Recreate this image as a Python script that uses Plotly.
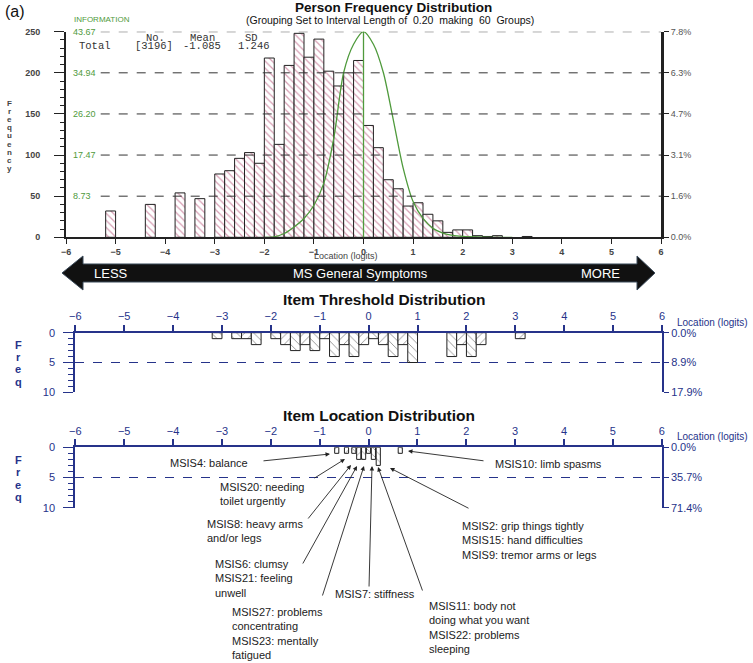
import plotly.graph_objects as go

# ---- data ----
# person frequency distribution (bin centres in logits, counts per 0.20 bin)
person_x = [-5.1, -4.3, -3.7, -3.3, -2.9, -2.7, -2.5, -2.3, -2.1, -1.9, -1.7, -1.5, -1.3, -1.1,
            -0.9, -0.7, -0.5, -0.3, -0.1, 0.1, 0.3, 0.5, 0.7, 0.9, 1.1, 1.3, 1.5, 1.7, 1.9, 2.1,
            2.3, 2.5, 2.7, 3.3]
person_n = [32, 40, 54, 47, 77, 81, 96, 103, 90, 218, 113, 209, 248, 219,
            241, 202, 184, 200, 215, 136, 109, 70, 59, 38, 42, 28, 20, 6, 9, 9,
            2, 1, 2, 1]

# test information curve (green line)
info_x = [-2.0, -1.8, -1.6, -1.4, -1.2, -1.0, -0.8, -0.6, -0.4, -0.2, 0.0, 0.2, 0.4, 0.6,
          0.8, 1.0, 1.2, 1.4, 1.6, 1.8, 2.0, 2.4, 3.0]
info_y = [0.0, 0.1, 0.8, 2.2, 4.0, 6.8, 11.5, 21.0, 35.0, 41.0, 43.67, 41.0, 35.0, 25.0,
          14.7, 7.6, 4.0, 1.9, 0.9, 0.4, 0.2, 0.05, 0.0]

count_ticks = [0, 50, 100, 150, 200, 250]
count_pct = ['0.0%', '1.6%', '3.1%', '4.7%', '6.3%', '7.8%']
info_ticks = [8.73, 17.47, 26.20, 34.94, 43.67]
info_labels = ['8.73', '17.47', '26.20', '34.94', '43.67']
logit_ticks = [-6, -5, -4, -3, -2, -1, 0, 1, 2, 3, 4, 5, 6]

# item threshold distribution
thr_x = [-3.1, -2.7, -2.5, -2.3, -1.9, -1.7, -1.5, -1.3, -1.1, -0.9, -0.7, -0.5, -0.3, -0.1,
         0.1, 0.3, 0.5, 0.7, 0.9, 1.7, 1.9, 2.1, 2.3, 3.1]
thr_n = [1, 1, 1, 2, 1, 2, 3, 2, 3, 1, 4, 2, 4, 2,
         1, 2, 4, 2, 5, 4, 2, 4, 2, 1]
thr_ticks = [0, 5, 10]
thr_pct = ['0.0%', '8.9%', '17.9%']

# item location distribution
item_x = [-0.65, -0.45, -0.3, -0.2, -0.1, 0.0, 0.1, 0.2, 0.65]
item_n = [1, 1, 1, 2, 2, 1, 2, 3, 1]
item_pct = ['0.0%', '35.7%', '71.4%']

item_labels = [
    'MSIS4: balance',
    'MSIS20: needing<br>toilet urgently',
    'MSIS8: heavy arms<br>and/or legs',
    'MSIS6: clumsy<br>MSIS21: feeling<br>unwell',
    'MSIS27: problems<br>concentrating<br>MSIS23: mentally<br>fatigued',
    'MSIS7: stiffness',
    'MSIS11: body not<br>doing what you want<br>MSIS22: problems<br>sleeping',
    'MSIS2: grip things tightly<br>MSIS15: hand difficulties<br>MSIS9: tremor arms or legs',
    'MSIS10: limb spasms',
]

# ---- figure ----
W, H = 753, 663
FONT = 'Arial, Liberation Sans, sans-serif'
NAVY = '#26338a'
GREEN = '#4f9a3c'
HATCH = '#b0406a'


def px(x):
    return x / W


def py(y):
    return 1 - y / H


def hatch(xs, width):
    return ['\\' if round((x + 6) / width - 0.5) % 2 == 0 else '/' for x in xs]


fig = go.Figure()

fig.add_trace(go.Bar(
    x=person_x, y=person_n, width=0.2, xaxis='x', yaxis='y',
    marker=dict(color='white', line=dict(color='#222', width=1),
                pattern=dict(shape='\\', fgcolor=HATCH, bgcolor='white', size=5, solidity=0.25)),
    hoverinfo='x+y'))
fig.add_trace(go.Scatter(
    x=info_x, y=info_y, xaxis='x', yaxis='y3', mode='lines',
    line=dict(color=GREEN, width=1.3, shape='spline', smoothing=0.8)))

fig.add_trace(go.Bar(
    x=thr_x, y=thr_n, width=0.2, xaxis='x2', yaxis='y4',
    marker=dict(color='white', line=dict(color='#222', width=1),
                pattern=dict(shape=hatch(thr_x, 0.2), fgcolor='#222', bgcolor='white', size=6, solidity=0.15))))

fig.add_trace(go.Bar(
    x=item_x, y=item_n, width=0.085, xaxis='x3', yaxis='y6',
    marker=dict(color='white', line=dict(color='#222', width=1),
                pattern=dict(shape=hatch(item_x, 0.1), fgcolor='#222', bgcolor='white', size=5, solidity=0.15))))

# invisible copies so the right-hand percentage axes get drawn
for xs, ys, xa, ya in [(person_x, person_n, 'x', 'y2'), (thr_x, thr_n, 'x2', 'y5'),
                       (item_x, item_n, 'x3', 'y7')]:
    fig.add_trace(go.Scatter(x=xs, y=ys, xaxis=xa, yaxis=ya, mode='markers',
                             marker=dict(opacity=0), hoverinfo='skip'))

tick_gray = dict(family=FONT, size=9, color='#444', weight='bold')
tick_navy = dict(family=FONT, size=11, color=NAVY)

top_x = [px(66), px(661)]
top_y = [py(237.3), py(31.7)]
thr_dx = [px(75.3), px(662)]
thr_dy = [py(392.3), py(332.7)]
item_dx = [px(75.3), px(661.7)]
item_dy = [py(507.7), py(447.3)]

fig.update_layout(
    width=W, height=H, margin=dict(l=0, r=0, t=0, b=0),
    paper_bgcolor='white', plot_bgcolor='rgba(0,0,0,0)',
    showlegend=False, font=dict(family=FONT),
    xaxis=dict(domain=top_x, anchor='y', range=[-6, 6], tickvals=logit_ticks,
               ticks='outside', ticklen=5, tickcolor='#222', showline=True, linecolor='#222',
               linewidth=2, showgrid=False, zeroline=False, tickfont=tick_gray),
    yaxis=dict(domain=top_y, anchor='x', range=[0, 250], tickvals=count_ticks,
               ticks='outside', ticklen=10, tickcolor='#222', showline=True, linecolor='#222',
               linewidth=2, showgrid=False, zeroline=False, tickfont=tick_gray,
               ticklabelstandoff=12,
               minor=dict(dtick=10, ticks='outside', ticklen=4, tickcolor='#222')),
    yaxis2=dict(overlaying='y', side='right', anchor='x', range=[0, 250], tickvals=count_ticks,
                ticktext=count_pct, ticks='outside', ticklen=5, tickcolor='#222', showline=True,
                linecolor='#222', linewidth=3, showgrid=False, zeroline=False,
                tickfont=dict(family=FONT, size=9, color='#555')),
    yaxis3=dict(overlaying='y', side='left', anchor='x', range=[0, 43.67], visible=False),

    xaxis2=dict(domain=thr_dx, anchor='y4', side='top', range=[-6, 6], tickvals=logit_ticks,
                ticks='outside', ticklen=6, tickcolor=NAVY, tickwidth=1.5, showline=True,
                linecolor=NAVY, linewidth=2, showgrid=False, zeroline=False, tickfont=tick_navy),
    yaxis4=dict(domain=thr_dy, anchor='x2', range=[10, 0], tickvals=thr_ticks,
                ticks='outside', ticklen=10, tickcolor=NAVY, showline=True, linecolor=NAVY,
                linewidth=2, showgrid=True, gridcolor=NAVY, griddash='dash', gridwidth=1,
                zeroline=False, tickfont=tick_navy, ticklabelstandoff=6,
                minor=dict(dtick=1, ticks='outside', ticklen=5, tickcolor=NAVY)),
    yaxis5=dict(overlaying='y4', side='right', anchor='x2', range=[10, 0], tickvals=thr_ticks,
                ticktext=thr_pct, ticks='outside', ticklen=5, tickcolor=NAVY, showline=True,
                linecolor=NAVY, linewidth=2, showgrid=False, zeroline=False, tickfont=tick_navy),

    xaxis3=dict(domain=item_dx, anchor='y6', side='top', range=[-6, 6], tickvals=logit_ticks,
                ticks='outside', ticklen=6, tickcolor=NAVY, tickwidth=1.5, showline=True,
                linecolor=NAVY, linewidth=2, showgrid=False, zeroline=False, tickfont=tick_navy),
    yaxis6=dict(domain=item_dy, anchor='x3', range=[10, 0], tickvals=thr_ticks,
                ticks='outside', ticklen=10, tickcolor=NAVY, showline=True, linecolor=NAVY,
                linewidth=2, showgrid=True, gridcolor=NAVY, griddash='dash', gridwidth=1,
                zeroline=False, tickfont=tick_navy, ticklabelstandoff=6,
                minor=dict(dtick=1, ticks='outside', ticklen=5, tickcolor=NAVY)),
    yaxis7=dict(overlaying='y6', side='right', anchor='x3', range=[10, 0], tickvals=thr_ticks,
                ticktext=item_pct, ticks='outside', ticklen=5, tickcolor=NAVY, showline=True,
                linecolor=NAVY, linewidth=2, showgrid=False, zeroline=False, tickfont=tick_navy),
)
fig.update_xaxes(automargin=False)
fig.update_yaxes(automargin=False)

shapes = []
# dashed guide lines in the person panel, starting after the green labels
for t in count_ticks[1:]:
    shapes.append(dict(type='line', xref='x', yref='y', x0=-5.3, x1=6, y0=t, y1=t,
                       line=dict(color='#333', width=1, dash='dash')))
shapes.append(dict(type='line', xref='x', yref='y domain', x0=0, x1=0, y0=0, y1=1,
                   line=dict(color=GREEN, width=1.3)))

# LESS / MORE arrow
pts = [(62, 273), (83, 256), (83, 264), (637, 264), (637, 256), (655, 273),
       (637, 290), (637, 282), (83, 282), (83, 290)]
path = 'M ' + ' L '.join(f'{px(x):.5f},{py(y):.5f}' for x, y in pts) + ' Z'
shapes.append(dict(type='path', xref='paper', yref='paper', path=path,
                   fillcolor='#111', line=dict(color='#3a4a5a', width=1)))
fig.update_layout(shapes=shapes)

ann = []


def text(t, x, y, size=11, color='#111', xanchor='center', yanchor='middle', family=FONT,
         align='center', **kw):
    ann.append(dict(text=t, x=px(x), y=py(y), xref='paper', yref='paper', showarrow=False,
                    xanchor=xanchor, yanchor=yanchor, align=align,
                    font=dict(family=family, size=size, color=color, **kw)))


text('(a)', 3, 11, size=16, xanchor='left')
text('Person Frequency Distribution', 393, 8, size=13.5, weight='bold')
text('(Grouping Set to Interval Length of  0.20  making  60  Groups)', 390, 20, size=10.5)
text('INFORMATION', 72, 19, size=8, color=GREEN, xanchor='left')

# green information scale, just inside the left axis
for v, lab in zip(info_ticks, info_labels):
    ann.append(dict(text=lab, x=px(71), y=v, xref='paper', yref='y3', showarrow=False,
                    xanchor='left', yanchor='middle', font=dict(family=FONT, size=9, color=GREEN)))

mono = 'Liberation Mono, Courier New, monospace'
for t, x in [('No.', 155), ('Mean', 202), ('SD', 251)]:
    text(t, x, 38, size=10.5, color='#333', family=mono)
for t, x in [('Total', 95), ('[3196]', 154), ('-1.085', 202), ('1.246', 254)]:
    text(t, x, 46, size=10.5, color='#333', family=mono)

for i, ch in enumerate('Frequency'):
    text(ch, 9, 103 + i * 8.2, size=8, color='#444', weight='bold')
text('Location (logits)', 346, 256, size=9, color='#444')

text('LESS', 111, 273, size=13, color='white')
text('MS General Symptoms', 360, 273, size=13, color='white')
text('MORE', 600, 273, size=13, color='white')

text('Item Threshold Distribution', 384, 300, size=15.5, weight='bold')
text('Item Location Distribution', 379, 415, size=15.5, weight='bold')
text('Location (logits)', 675, 322, size=10, color=NAVY, xanchor='left')
text('Location (logits)', 675, 436, size=10, color=NAVY, xanchor='left')
for i, ch in enumerate('Freq'):
    text(ch, 18, 345 + i * 12.2, size=11, color=NAVY, weight='bold')
    text(ch, 18, 460 + i * 12.4, size=11, color=NAVY, weight='bold')

# item labels: (left x, centre of first line)
label_pos = [(168, 462), (218, 486), (205, 523), (213, 563), (230, 611),
             (333, 593), (427, 605), (460, 525), (493, 463)]
for t, (x, y) in zip(item_labels, label_pos):
    text(t, x, y - 7, size=11, color='#222', xanchor='left', yanchor='top', align='left')

# arrows: tip -> tail in pixels
arrows = [((330, 454), (262, 461)), ((345, 459), (313, 479)), ((351, 465), (307, 520)),
          ((357, 466), (302, 565)), ((364, 466), (322, 597)), ((372, 466), (369, 588)),
          ((378, 467), (423, 592)), ((390, 468), (470, 509)), ((408, 451), (485, 461))]
for (tx, ty), (sx, sy) in arrows:
    ann.append(dict(x=px(tx), y=py(ty), xref='paper', yref='paper', text='', showarrow=True,
                    ax=sx - tx, ay=sy - ty, axref='pixel', ayref='pixel', arrowhead=2,
                    arrowsize=1, arrowwidth=0.9, arrowcolor='#222', standoff=0))

fig.update_layout(annotations=ann)
# drop the page's default 8px body margin so the figure sits at the window corner
fig.write_html('out.html', config={'displayModeBar': False},
               post_script="document.body.style.margin='0';")
